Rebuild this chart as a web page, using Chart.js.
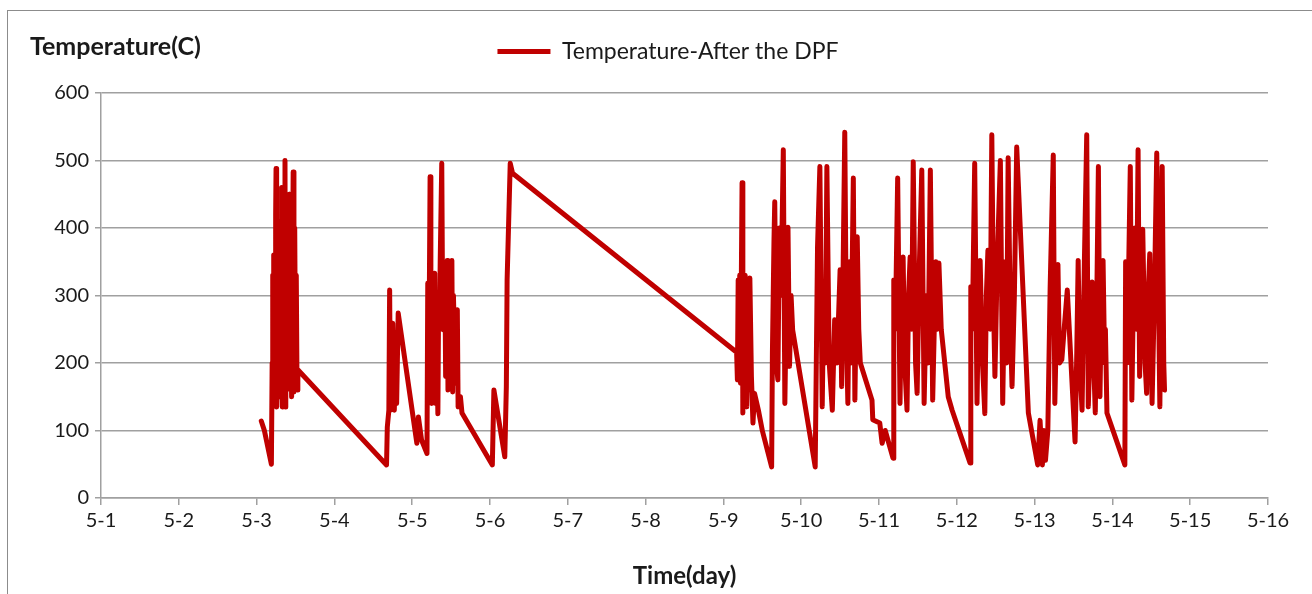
<!DOCTYPE html>
<html>
<head>
<meta charset="utf-8">
<script src="https://cdn.jsdelivr.net/npm/chart.js@4.4.1/dist/chart.umd.min.js"></script>
<style>
  html, body { margin: 0; padding: 0; background: #ffffff; }
  #wrap { position: absolute; left: 0; top: 0; width: 1312px; height: 594px; }
  #frame { position: absolute; left: 7px; top: 10px; width: 1320px; height: 600px; border: 1px solid #8c8c8c; box-sizing: border-box; pointer-events: none; }
</style>
</head>
<body>
<div id="wrap"><canvas id="c" width="1312" height="594"></canvas></div>
<div id="frame"></div>
<script>
// ---- labels ----
const seriesName = 'Temperature-After the DPF';
const yTitle = 'Temperature(C)';
const xTitle = 'Time(day)';
const monthPrefix = '5-';
const yTicks = [0, 100, 200, 300, 400, 500, 600];
const xTickDays = [1, 2, 3, 4, 5, 6, 7, 8, 9, 10, 11, 12, 13, 14, 15, 16];

// ---- data: day of May (x) and temperature in C (y) ----
const days = [
  3.06, 3.10, 3.19, 3.20, 3.205, 3.21, 3.215, 3.22, 3.225, 3.23,
  3.235, 3.24, 3.245, 3.25, 3.255, 3.26, 3.265, 3.27, 3.275, 3.28,
  3.285, 3.29, 3.295, 3.30, 3.305, 3.31, 3.315, 3.32, 3.325, 3.33,
  3.335, 3.34, 3.345, 3.35, 3.357, 3.365, 3.37, 3.375, 3.38, 3.385,
  3.39, 3.395, 3.40, 3.405, 3.41, 3.415, 3.42, 3.425, 3.43, 3.435,
  3.44, 3.445, 3.45, 3.46, 3.47, 3.48, 3.49, 3.50, 3.51, 3.52,
  3.53,
  4.67, 4.68, 4.70, 4.71, 4.72, 4.74, 4.75, 4.77, 4.78, 4.80, 4.82,
  5.06, 5.08, 5.12,
  5.19, 5.20, 5.21, 5.22, 5.23, 5.24, 5.25, 5.26, 5.27, 5.28,
  5.29, 5.30, 5.31, 5.32, 5.33, 5.34, 5.35, 5.36, 5.38, 5.39,
  5.40, 5.41, 5.42, 5.43, 5.44, 5.45, 5.46, 5.47, 5.48, 5.49,
  5.50, 5.51, 5.52, 5.53, 5.54, 5.55, 5.56, 5.58, 5.59, 5.62,
  5.64,
  6.03, 6.05, 6.19, 6.21, 6.22, 6.26, 6.29,
  9.17, 9.18, 9.19, 9.20, 9.21, 9.22, 9.24, 9.25, 9.26, 9.27,
  9.28, 9.30, 9.31, 9.32, 9.34, 9.36, 9.38, 9.40, 9.45, 9.50,
  9.62, 9.63, 9.65, 9.66, 9.68, 9.70, 9.72, 9.74, 9.77, 9.79,
  9.81, 9.83, 9.85, 9.87, 9.89,
  10.18, 10.21, 10.24, 10.27, 10.29, 10.31, 10.33, 10.36, 10.40, 10.43,
  10.46, 10.50, 10.52, 10.54, 10.56, 10.58, 10.60, 10.62, 10.64, 10.67,
  10.69, 10.72, 10.74, 10.76,
  10.91, 10.92, 11.01, 11.04, 11.08, 11.18,
  11.19, 11.21, 11.24, 11.27, 11.29, 11.31, 11.33, 11.36, 11.38, 11.40,
  11.42, 11.44, 11.47, 11.49, 11.52, 11.55, 11.58, 11.61, 11.63, 11.66,
  11.69, 11.72, 11.73, 11.75, 11.77, 11.80, 11.89, 11.94,
  12.17, 12.18, 12.20, 12.23, 12.26, 12.28, 12.30, 12.33, 12.36, 12.38,
  12.40, 12.43, 12.45, 12.47, 12.49, 12.52, 12.56, 12.59, 12.62, 12.64,
  12.66, 12.69, 12.71, 12.74, 12.77, 12.92,
  13.04, 13.07, 13.10, 13.12, 13.14, 13.17, 13.20, 13.24, 13.26, 13.28,
  13.30, 13.32, 13.35, 13.38, 13.42, 13.52, 13.54, 13.56, 13.58, 13.61,
  13.64, 13.67, 13.69, 13.72, 13.74, 13.76, 13.78, 13.80, 13.82, 13.84,
  13.86, 13.88, 13.90, 13.91, 13.93,
  14.16, 14.17, 14.19, 14.23, 14.25, 14.27, 14.29, 14.31, 14.33, 14.35,
  14.37, 14.39, 14.42, 14.44, 14.46, 14.48, 14.51, 14.54, 14.57, 14.61,
  14.64, 14.66, 14.67
];
const temps = [
  114, 100, 50, 200, 330, 310, 150, 360, 200, 140,
  330, 200, 420, 488, 250, 135, 300, 180, 380, 410,
  200, 150, 350, 380, 180, 220, 400, 460, 170, 135,
  320, 400, 200, 250, 420, 500, 135, 300, 380, 200,
  160, 360, 430, 180, 250, 400, 450, 220, 170, 330,
  350, 200, 150, 300, 483, 157, 400, 200, 330, 160,
  190,
  49, 105, 130, 308, 130, 200, 259, 130, 180, 140, 274,
  81, 120, 86,
  66, 318, 200, 300, 476, 250, 140, 330, 180, 300,
  333, 140, 300, 200, 125, 300, 250, 350, 496, 300,
  249, 340, 330, 180, 300, 352, 160, 320, 300, 200,
  330, 352, 157, 300, 250, 170, 250, 279, 135, 150,
  126,
  49, 160, 61, 165, 323, 496, 481,
  216, 175, 323, 200, 330, 170, 467, 126, 330, 200,
  330, 135, 300, 160, 326, 180, 111, 155, 130, 100,
  46, 215, 380, 439, 200, 175, 400, 300, 516, 140,
  300, 401, 195, 300, 249,
  46, 372, 491, 135, 300, 200, 491, 200, 130, 264,
  200, 338, 165, 350, 542, 250, 140, 350, 200, 474,
  145, 387, 250, 200,
  145, 116, 111, 81, 100, 59,
  323, 250, 474, 140, 300, 357, 200, 130, 300, 357,
  250, 498, 200, 155, 350, 486, 140, 300, 200, 486,
  145, 300, 350, 250, 348, 250, 150, 130,
  52, 313, 250, 496, 140, 300, 352, 200, 125, 300,
  367, 250, 538, 300, 180, 350, 500, 140, 350, 200,
  504, 250, 165, 300, 520, 126,
  49, 115, 49, 100, 56, 100, 313, 508, 140, 250,
  346, 200, 205, 250, 308, 83, 200, 352, 200, 130,
  350, 538, 135, 250, 320, 200, 126, 300, 491, 150,
  300, 352, 200, 250, 126,
  49, 350, 200, 491, 145, 300, 400, 250, 516, 180,
  300, 398, 200, 155, 300, 362, 140, 300, 511, 135,
  491, 200, 160
];

const points = days.map((d, i) => ({ x: d, y: temps[i] }));

const FONT = 'Lato, "Open Sans", sans-serif';
const TEXT = '#1a1a1a';
const GRID = '#a0a0a0';
const LEGEND_CENTER_X = 668;
const PAD_L = 8, PAD_R = 44, PAD_T = 30, PAD_B = 3;
const PLOT_LEFT = 101, PLOT_TOP = 93, PLOT_BOTTOM = 498;

const layoutPlugin = {
  id: 'layoutTweaks',
  afterInit(chart) {
    const lg = chart.legend;
    if (lg) {
      const origFit = lg.fit.bind(lg);
      lg.fit = function () { origFit(); this.height = PLOT_TOP - PAD_T; };
    }
  },
  afterLayout(chart) {
    const lg = chart.legend;
    if (lg) {
      const dx = LEGEND_CENTER_X - (lg.left + lg.right) / 2;
      lg.left += dx; lg.right += dx;
    }
  },
  afterDraw(chart) {
    const ctx = chart.ctx;
    ctx.save();
    ctx.font = 'bold 25px ' + FONT;
    ctx.fillStyle = TEXT;
    ctx.textAlign = 'left';
    ctx.textBaseline = 'middle';
    ctx.fillText(yTitle, 30, 47);
    ctx.restore();
  }
};

new Chart(document.getElementById('c'), {
  type: 'line',
  data: {
    datasets: [{
      label: seriesName,
      data: points,
      borderColor: '#c00000',
      backgroundColor: '#c00000',
      borderWidth: 5,
      pointRadius: 0,
      tension: 0,
      borderJoinStyle: 'round',
      borderCapStyle: 'round'
    }]
  },
  options: {
    responsive: false,
    animation: false,
    devicePixelRatio: 1,
    layout: { padding: { left: PAD_L, right: PAD_R, top: PAD_T, bottom: PAD_B } },
    plugins: {
      tooltip: { enabled: false },
      legend: {
        display: true,
        position: 'top',
        labels: {
          usePointStyle: true,
          pointStyle: 'line',
          pointStyleWidth: 53,
          color: TEXT,
          font: { family: FONT, size: 23 },
          padding: 10
        }
      }
    },
    scales: {
      x: {
        type: 'linear',
        min: 1,
        max: 16,
        afterBuildTicks(scale) { scale.ticks = xTickDays.map(v => ({ value: v })); },
        afterFit(scale) { scale.height = 594 - PLOT_BOTTOM - PAD_B; },
        ticks: {
          color: TEXT,
          font: { family: FONT, size: 20 },
          padding: 4,
          maxRotation: 0,
          autoSkip: false,
          callback: (v) => monthPrefix + v
        },
        grid: { drawOnChartArea: false, drawTicks: true, tickLength: 7, color: GRID, lineWidth: 1.5 },
        border: { display: true, color: GRID, width: 1.5 },
        title: { display: true, text: xTitle, color: TEXT, font: { family: FONT, size: 24, weight: 'bold' }, padding: { top: 0, bottom: 0 } }
      },
      y: {
        min: 0,
        max: 600,
        afterBuildTicks(scale) { scale.ticks = yTicks.map(v => ({ value: v })); },
        afterFit(scale) { scale.width = PLOT_LEFT - PAD_L; },
        ticks: { color: TEXT, font: { family: FONT, size: 20 }, padding: 6 },
        grid: { color: GRID, lineWidth: 1.5, tickLength: 6, drawTicks: true },
        border: { display: true, color: GRID, width: 1.5 }
      }
    }
  },
  plugins: [layoutPlugin]
});
</script>
</body>
</html>
